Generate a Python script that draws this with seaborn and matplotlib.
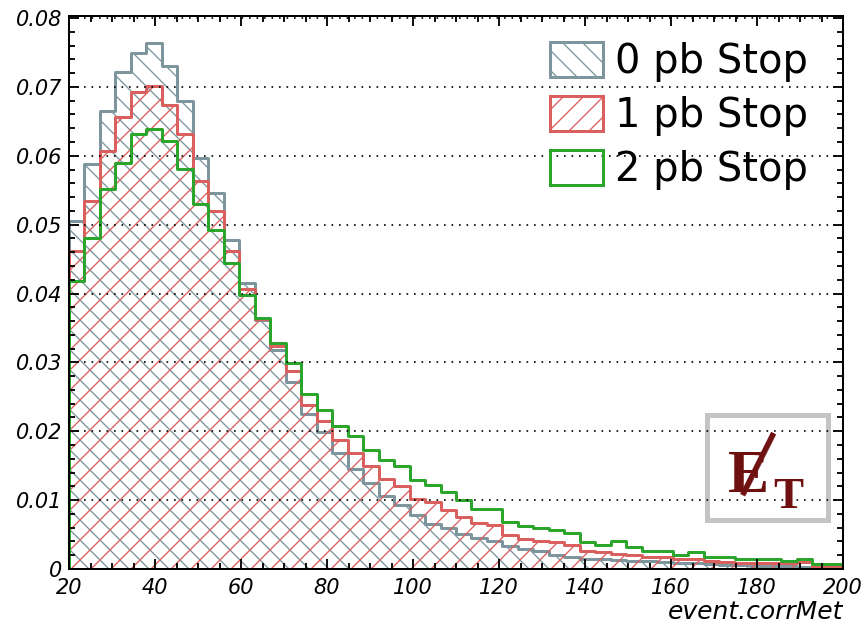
import numpy as np
import matplotlib
matplotlib.use("Agg")
import matplotlib.pyplot as plt
from matplotlib.patches import Rectangle
from matplotlib.ticker import MultipleLocator, FuncFormatter
import seaborn as sns

# 50 bins of 3.6 between 20 and 200
bin_edges = list(np.linspace(20, 200, 51))
bin_centers = [0.5 * (a + b) for a, b in zip(bin_edges[:-1], bin_edges[1:])]

stop_0pb = [0.0506, 0.0588, 0.0665, 0.0721, 0.0749, 0.0764, 0.0731, 0.0680, 0.0597, 0.0546,
            0.0478, 0.0415, 0.0362, 0.0318, 0.0271, 0.0225, 0.0199, 0.0169, 0.0145, 0.0125,
            0.0106, 0.0093, 0.0078, 0.0065, 0.0060, 0.0051, 0.0045, 0.0040, 0.0034, 0.0029,
            0.0026, 0.0021, 0.0018, 0.0015, 0.0014, 0.0013, 0.0012, 0.0011, 0.0010, 0.0009,
            0.0008, 0.0007, 0.0006, 0.0006, 0.0005, 0.0004, 0.0004, 0.0003, 0.0003, 0.0002]
stop_1pb = [0.0462, 0.0534, 0.0607, 0.0656, 0.0693, 0.0702, 0.0674, 0.0631, 0.0563, 0.0520,
            0.0462, 0.0406, 0.0363, 0.0324, 0.0287, 0.0238, 0.0215, 0.0187, 0.0169, 0.0149,
            0.0130, 0.0120, 0.0102, 0.0097, 0.0086, 0.0075, 0.0067, 0.0064, 0.0050, 0.0044,
            0.0040, 0.0039, 0.0035, 0.0026, 0.0024, 0.0022, 0.0020, 0.0018, 0.0018, 0.0015,
            0.0014, 0.0011, 0.0010, 0.0009, 0.0009, 0.0008, 0.0008, 0.0010, 0.0003, 0.0003]
stop_2pb = [0.0418, 0.0481, 0.0552, 0.0590, 0.0632, 0.0639, 0.0621, 0.0581, 0.0530, 0.0492,
            0.0445, 0.0398, 0.0365, 0.0328, 0.0299, 0.0254, 0.0231, 0.0207, 0.0193, 0.0173,
            0.0158, 0.0149, 0.0129, 0.0122, 0.0112, 0.0100, 0.0087, 0.0087, 0.0068, 0.0062,
            0.0059, 0.0056, 0.0053, 0.0039, 0.0035, 0.0040, 0.0032, 0.0026, 0.0026, 0.0021,
            0.0024, 0.0018, 0.0018, 0.0015, 0.0015, 0.0014, 0.0012, 0.0014, 0.0007, 0.0007]
labels = ["0 pb Stop", "1 pb Stop", "2 pb Stop"]

gray = "#7d959d"
red = "#d9605f"
green = "#2ca52c"

sns.set_style("ticks")
plt.rcParams["font.family"] = ["DejaVu Sans"]
plt.rcParams["font.style"] = "italic"
plt.rcParams["text.color"] = "black"
plt.rcParams["axes.labelcolor"] = "black"
plt.rcParams["hatch.linewidth"] = 0.8

dpi = 120
fig = plt.figure(figsize=(865 / dpi, 624 / dpi), dpi=dpi)
ax = fig.add_axes([69 / 865, 1 - 569 / 624, 774 / 865, 553 / 624])

sns.histplot(x=bin_centers, weights=stop_0pb, bins=bin_edges, element="step", fill=True,
             color=gray, facecolor="none", edgecolor=gray, hatch="\\\\", linewidth=1.8,
             label=labels[0], ax=ax)
sns.histplot(x=bin_centers, weights=stop_1pb, bins=bin_edges, element="step", fill=True,
             color=red, facecolor="none", edgecolor=red, hatch="//", linewidth=1.8,
             label=labels[1], ax=ax)
sns.histplot(x=bin_centers, weights=stop_2pb, bins=bin_edges, element="step", fill=True,
             color=green, facecolor="none", edgecolor=green, linewidth=1.8,
             label=labels[2], ax=ax)

ax.set_xlim(20, 200)
ax.set_ylim(0, 0.0803)
ax.xaxis.set_major_locator(MultipleLocator(20))
ax.xaxis.set_minor_locator(MultipleLocator(5))
ax.yaxis.set_major_locator(MultipleLocator(0.01))
ax.yaxis.set_minor_locator(MultipleLocator(0.002))
ax.yaxis.set_major_formatter(FuncFormatter(lambda v, p: "0" if abs(v) < 1e-9 else f"{v:.2f}"))
ax.tick_params(which="both", direction="in", top=True, right=True, width=1.1,
               color="black", labelcolor="black", labelsize=12.5)
ax.tick_params(which="major", length=6)
ax.tick_params(which="minor", length=3.5)
ax.tick_params(axis="y", pad=4)
ax.tick_params(axis="x", pad=5.5)
for s in ax.spines.values():
    s.set_visible(True)
    s.set_linewidth(1.2)
    s.set_color("black")

ax.set_axisbelow(False)
ax.grid(axis="y", color="black", linestyle=(0, (1, 3.5)), linewidth=1.0)
ax.grid(axis="x", visible=False)

ax.set_ylabel("")
ax.set_xlabel("event.corrMet", loc="right", fontsize=15, labelpad=1, color="black")

leg = ax.legend(loc="upper right", bbox_to_anchor=(808 / 865, 1 - 42 / 624),
                bbox_transform=fig.transFigure, frameon=False, borderpad=0, borderaxespad=0,
                prop={"style": "normal", "size": 24}, handlelength=1.32, handleheight=0.98,
                handletextpad=0.3, labelspacing=0.34)
for t in leg.get_texts():
    t.set_color("black")

# missing-ET box
ax.add_patch(Rectangle((0.824, 0.0886), 0.157, 0.1894, transform=ax.transAxes,
                       fill=False, edgecolor="#c4c4c4", linewidth=3))
et_color = "#6e1010"
ax.text(0.8514, 0.139, "E", transform=ax.transAxes, ha="left", va="baseline",
        fontsize=37, fontweight="bold", fontstyle="normal", family="Liberation Serif", color=et_color)
ax.text(0.9096, 0.110, "T", transform=ax.transAxes, ha="left", va="baseline",
        fontsize=27, fontweight="bold", fontstyle="normal", family="Liberation Serif", color=et_color)
ax.text(0.888, 0.185, "|", transform=ax.transAxes, ha="center", va="center", rotation=-26.6,
        rotation_mode="anchor", fontsize=42, fontstyle="normal", color=et_color)

fig.savefig("out.png", dpi=dpi)
